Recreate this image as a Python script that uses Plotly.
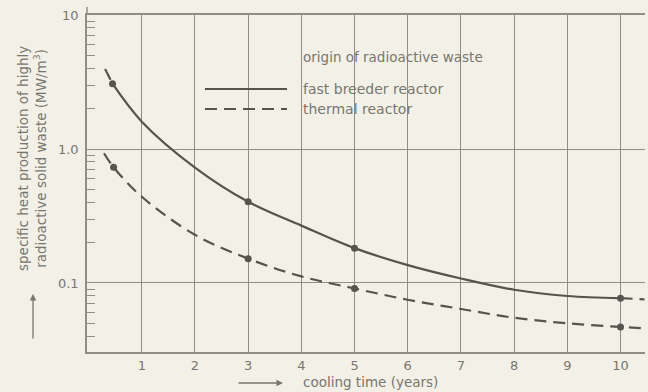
import plotly.graph_objects as go

# ---------------- data ----------------
fbr_x = [0.31, 0.45, 1.0, 2, 3, 4, 5, 6, 7, 8, 9, 10, 10.45]
fbr_y = [3.95, 3.07, 1.6, 0.727, 0.404, 0.268, 0.182, 0.136, 0.108, 0.089, 0.080, 0.077, 0.0755]
fbr_marker_idx = [1, 4, 6, 11]

thermal_x = [0.29, 0.47, 1, 2, 3, 4, 5, 6, 7, 8, 9, 10, 10.45]
thermal_y = [0.93, 0.73, 0.44, 0.229, 0.152, 0.112, 0.091, 0.075, 0.064, 0.055, 0.050, 0.047, 0.0458]
thermal_marker_idx = [1, 4, 6, 11]

x_ticks = [1, 2, 3, 4, 5, 6, 7, 8, 9, 10]
y_ticks = [0.1, 1, 10]
y_ticktext = ["0.1", "1.0", "10"]
y_minor = [m * d for d in (0.01, 0.1, 1) for m in range(2, 10)]

legend_title = "origin of radioactive waste"
name_fbr = "fast breeder reactor"
name_thermal = "thermal reactor"
y_title = "specific heat production of highly<br>radioactive solid waste (MW/m<sup>3</sup>)"
x_title = "cooling time (years)"

# ---------------- styling ----------------
W, H = 648, 392
ML, MR, MT, MB = 87, 3, 15, 40
BG = "#f3f0e7"
INK = "#55554f"
GRID = "#8e8e88"
TXT = "#77776f"
FONT = "DejaVu Sans"
DASH = "12px,7px"


def px(xp):
    return (xp - ML) / (W - ML - MR)


def py(yp):
    return (H - MB - yp) / (H - MT - MB)


fig = go.Figure()

line_solid = dict(color=INK, width=2.2, shape="spline")
line_dash = dict(color=INK, width=2.2, shape="spline", dash=DASH)

last = fbr_marker_idx[-1]
# fast breeder: dashed extrapolation before first and after last measured point
fig.add_trace(go.Scatter(x=fbr_x[:2], y=fbr_y[:2], mode="lines", line=line_dash,
                         showlegend=False, hoverinfo="skip"))
fig.add_trace(go.Scatter(x=fbr_x[1:last + 1], y=fbr_y[1:last + 1], mode="lines",
                         line=line_solid, name=name_fbr, showlegend=False))
fig.add_trace(go.Scatter(x=fbr_x[last:], y=fbr_y[last:], mode="lines", line=line_dash,
                         showlegend=False, hoverinfo="skip"))
fig.add_trace(go.Scatter(x=[fbr_x[i] for i in fbr_marker_idx],
                         y=[fbr_y[i] for i in fbr_marker_idx],
                         mode="markers", marker=dict(color=INK, size=7),
                         showlegend=False))

fig.add_trace(go.Scatter(x=thermal_x, y=thermal_y, mode="lines", line=line_dash,
                         name=name_thermal, showlegend=False))
fig.add_trace(go.Scatter(x=[thermal_x[i] for i in thermal_marker_idx],
                         y=[thermal_y[i] for i in thermal_marker_idx],
                         mode="markers", marker=dict(color=INK, size=7),
                         showlegend=False))

shapes = [
    # gridline gaps behind the legend
    dict(type="rect", xref="paper", yref="paper", x0=px(255), x1=px(476),
         y0=py(132), y1=py(33), fillcolor=BG, line=dict(width=0), layer="between"),
    dict(type="rect", xref="paper", yref="paper", x0=px(200), x1=px(256),
         y0=py(132), y1=py(65), fillcolor=BG, line=dict(width=0), layer="between"),
    # legend line samples
    dict(type="line", xref="paper", yref="paper", x0=px(205), x1=px(287),
         y0=py(89), y1=py(89), line=dict(color=INK, width=2.2), layer="above"),
    dict(type="line", xref="paper", yref="paper", x0=px(205), x1=px(287),
         y0=py(109), y1=py(109), line=dict(color=INK, width=2.2, dash=DASH), layer="above"),
    # left axis extends a little above the frame
    dict(type="line", xref="paper", yref="paper", x0=0, x1=0, y0=1, y1=py(7),
         line=dict(color=GRID, width=1.5)),
]

annotations = [
    dict(text=legend_title, xref="paper", yref="paper", x=px(301), y=py(57),
         xanchor="left", yanchor="middle", showarrow=False,
         font=dict(family=FONT, size=13.5, color=TXT)),
    dict(text=name_fbr, xref="paper", yref="paper", x=px(301), y=py(89),
         xanchor="left", yanchor="middle", showarrow=False,
         font=dict(family=FONT, size=14, color=TXT)),
    dict(text=name_thermal, xref="paper", yref="paper", x=px(301), y=py(109),
         xanchor="left", yanchor="middle", showarrow=False,
         font=dict(family=FONT, size=14, color=TXT)),
    dict(text=y_title, xref="paper", yref="paper", x=px(32), y=py(159),
         xanchor="center", yanchor="middle", textangle=-90, showarrow=False,
         font=dict(family=FONT, size=13.5, color=TXT)),
    dict(text=x_title, xref="paper", yref="paper", x=px(301), y=py(382),
         xanchor="left", yanchor="middle", showarrow=False,
         font=dict(family=FONT, size=13.5, color=TXT)),
    # arrows
    dict(text="", xref="paper", yref="paper", x=px(283), y=py(383), ax=-46, ay=0,
         showarrow=True, arrowhead=2, arrowsize=1, arrowwidth=1.3, arrowcolor=TXT),
    dict(text="", xref="paper", yref="paper", x=px(33), y=py(294), ax=0, ay=46,
         showarrow=True, arrowhead=2, arrowsize=1, arrowwidth=1.3, arrowcolor=TXT),
]

fig.update_layout(
    width=W, height=H,
    margin=dict(l=ML, r=MR, t=MT, b=MB),
    paper_bgcolor=BG, plot_bgcolor=BG,
    font=dict(family=FONT, size=13, color=TXT),
    shapes=shapes, annotations=annotations,
    showlegend=False,
)

fig.update_xaxes(
    range=[-0.03, 10.46], tickvals=x_ticks, ticks="",
    showgrid=True, gridcolor=GRID, gridwidth=1,
    showline=True, linecolor=GRID, linewidth=1.5, mirror=True,
    zeroline=False, ticklabelstandoff=1,
    tickfont=dict(family=FONT, size=13, color=TXT),
)
fig.update_yaxes(
    type="log", range=[-1.515, 1.0],
    tickvals=y_ticks, ticktext=y_ticktext, ticks="",
    showgrid=True, gridcolor=GRID, gridwidth=1,
    showline=True, linecolor=GRID, linewidth=1.5,
    zeroline=False, ticklabelstandoff=4,
    tickfont=dict(family=FONT, size=13, color=TXT),
    minor=dict(tickvals=y_minor, ticks="inside", ticklen=8, tickcolor=GRID,
               tickwidth=1, showgrid=False),
)

fig.write_html(
    "out.html",
    config={"displayModeBar": False},
    post_script="document.body.style.margin='0';document.body.style.background='%s';" % BG,
)
